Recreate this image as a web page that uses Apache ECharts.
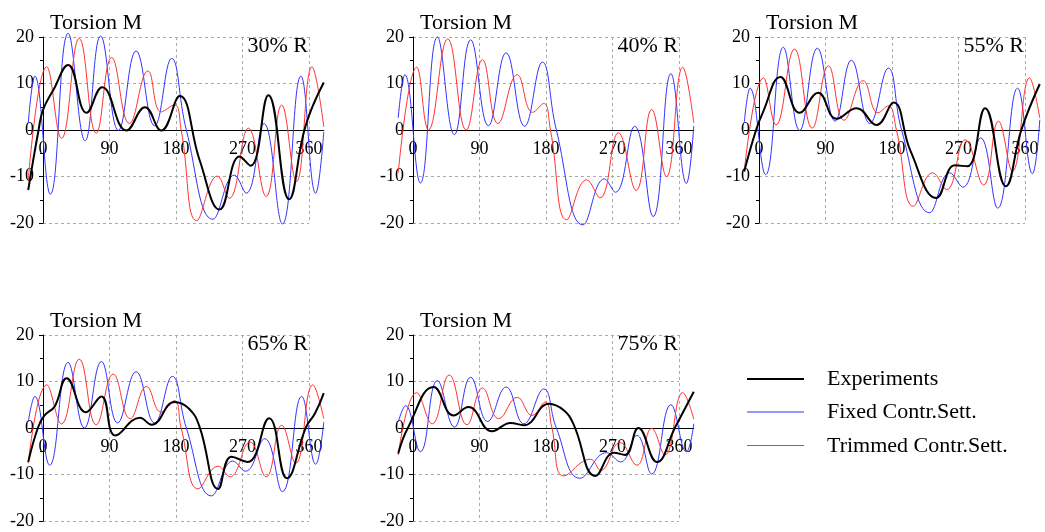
<!DOCTYPE html>
<html>
<head>
<meta charset="utf-8">
<script src="https://cdn.jsdelivr.net/npm/echarts@6/dist/echarts.min.js"></script>
<style>
html,body{margin:0;padding:0;background:#fff;}
#c{width:1045px;height:532px;}
</style>
</head>
<body>
<div id="c"></div>
<script>
// ---- data (angle in degrees, torsion moment) ----
const xTicks = [0, 90, 180, 270, 360];
const yTicks = [-20, -10, 0, 10, 20];
const panelLabels = ['30% R', '40% R', '55% R', '65% R', '75% R'];
const seriesNames = ['Experiments', 'Fixed Contr.Sett.', 'Trimmed Contr.Sett.'];

const exp30 = [[-20,-12.9],[-6,0],[0,4.3],[14,8.6],[34,14],[59,3.7],[80,9.2],[113,-0.1],[138,4.9],[160,-0.1],[185,7.3],[212,-6.5],[239,-17.1],[266,-5.7],[281,-7.7],[305,7.5],[333,-14.9],[355,0.7],[380,10.2]];
const fixed30 = [[-20,1.4],[-11,11.6],[10,-13.8],[34,20.8],[57,-2.3],[78,20.2],[102,-0.1],[126,17],[151,0.9],[174,15.4],[194,0],[230,-19.2],[259,-9.7],[275,-13.6],[299,1.4],[324,-20.2],[349,11.6],[369,-13.6],[380,-0.4]];
const trimmed30 = [[-20,-10.8],[5,13.6],[25,-1.8],[49,19.7],[72,-0.7],[93,15.6],[117,1.4],[142,12.7],[160,3.9],[178,5.4],[187,0],[208,-19.5],[236,-9.9],[252,-14.7],[278,0.4],[302,-14.3],[323,5.4],[343,-11.1],[364,13.6],[380,0.7]];

const exp40 = [];
const fixed40 = [[-20,2.6],[-11,11.9],[10,-11.4],[33,20],[56,-1],[78,19.4],[102,0.9],[126,16.6],[151,0.8],[175,14.6],[194,0],[230,-20.4],[259,-10.5],[274,-13.4],[300,0.8],[325,-18.6],[349,12.1],[370,-11.5],[380,0.9]];
const trimmed40 = [[-20,-9.2],[5,13.5],[21,0],[47,19.6],[72,0],[94,15.1],[115,1.4],[141,11.9],[162,3.8],[177,5.7],[186,0],[208,-19.3],[235,-10.7],[253,-14.6],[278,-0.6],[302,-13],[323,4.4],[343,-10],[365,13.5],[380,1.5]];

const exp55 = [[-20,-8.9],[-4,0],[5,3.7],[29,11.4],[55,3.7],[80,8],[105,2.4],[132,4.7],[159,1.1],[182,5.9],[205,-4.5],[240,-14.6],[265,-7.6],[282,-7.8],[306,4.7],[334,-12.1],[355,0],[380,9.9]];
const fixed55 = [[-20,1.5],[-12,9],[9,-9.6],[33,17.8],[55,-0.1],[79,17.6],[103,1.9],[125,15],[150,1.4],[175,13.3],[193,0],[231,-17.8],[258,-9.2],[276,-12.3],[300,-1.7],[323,-16.8],[350,9],[370,-9.4],[380,2.2]];
const trimmed55 = [[-20,-8.9],[6,11.2],[23,1.1],[48,17.4],[72,0.4],[94,13.8],[115,2.1],[141,10.6],[161,3.7],[175,5.2],[186,0],[209,-16.4],[235,-9.2],[254,-12.8],[279,-2.1],[304,-11.8],[324,1.9],[343,-8.9],[366,11.2],[380,2.6]];

const exp65 = [[-20,-7.3],[-7,0],[2,2.7],[16,4.7],[32,10.7],[58,3.4],[79,6.8],[98,-1.6],[131,2.2],[147,0.7],[178,5.6],[198,4.1],[212,0.2],[237,-13.1],[255,-6.2],[277,-7.3],[306,2.1],[330,-10.8],[356,0.2],[368,3.1],[380,7.5]];
const fixed65 = [[-20,1.3],[-11,6.8],[9,-8],[34,14.1],[56,0],[79,14.3],[101,1.1],[126,12.1],[151,1.1],[175,11.1],[194,0],[228,-14.6],[257,-7.1],[274,-9.3],[300,-2.3],[324,-13.7],[350,6.8],[369,-7.8],[380,1.3]];
const trimmed65 = [[-20,-7.6],[5,9.3],[25,0.9],[49,14.8],[72,0.7],[95,11.6],[118,2],[140,8.9],[160,3.4],[178,5.9],[187,0],[210,-13.1],[237,-8.2],[253,-10.5],[280,-3],[302,-10.5],[323,0.6],[342,-7.6],[365,9.3],[380,2]];

const exp75 = [[-20,-5.5],[-7,0],[28,8.8],[55,2.7],[75,4.5],[107,-0.7],[132,1.1],[150,0.6],[184,5.2],[204,3.8],[217,0.9],[247,-10.3],[272,-5.3],[287,-5.8],[305,0],[330,-7.3],[355,0.2],[380,7.8]];
const fixed75 = [[-20,1.3],[-10,4.8],[10,-5.1],[33,10.2],[56,0.2],[78,10.9],[101,1.4],[126,8.8],[150,0.9],[177,8.4],[194,0],[226,-10.8],[262,-5.3],[281,-7.3],[303,-1.6],[323,-9.9],[349,5],[370,-5.1],[380,0.9]];
const trimmed75 = [[-20,-5.8],[5,7.6],[26,0.9],[49,11.4],[73,0.7],[94,8.6],[116,2],[141,6.6],[161,2.7],[179,5.6],[188,0],[204,-10.3],[240,-6.7],[254,-9.1],[280,-3.1],[303,-8],[323,-0.1],[341,-5.8],[365,7.6],[380,1.9]];

const panelData = [
  [exp30, fixed30, trimmed30],
  [exp40, fixed40, trimmed40],
  [exp55, fixed55, trimmed55],
  [exp65, fixed65, trimmed65],
  [exp75, fixed75, trimmed75]
];

// ---- layout ----
const FONT = 'Liberation Serif';
const W = 266, H = 186;               // pixel size of the 0..360 / -20..20 box
const X_MIN = -20, X_MAX = 380;
const panels = [
  {x0: 43,  top: 37},
  {x0: 413, top: 37},
  {x0: 759, top: 37},
  {x0: 43,  top: 335},
  {x0: 413, top: 335}
];
const colors = ['#000000', '#3333ff', '#ff3333'];
const widths = [2, 1, 1];

const grid = [], xAxis = [], yAxis = [], series = [], title = [];
panels.forEach((p, i) => {
  const bi = grid.length;
  // box grid (0..360): dashed grid, y axis, x labels (moved up to the zero line)
  grid.push({left: p.x0, top: p.top, width: W, height: H, containLabel: false, outerBoundsMode: 'none'});
  xAxis.push({
    gridIndex: bi, type: 'value', min: 0, max: 360, interval: 90, position: 'bottom', offset: -H / 2,
    axisLine: {show: false, onZero: false}, axisTick: {show: false},
    axisLabel: {show: true, color: '#000', fontFamily: FONT, fontSize: 18, margin: 10,
      formatter: v => xTicks.indexOf(v) >= 0 ? String(v) : ''},
    splitLine: {show: true, lineStyle: {color: '#aaaaaa', type: [3, 3], width: 1}}
  });
  yAxis.push({
    gridIndex: bi, type: 'value', min: yTicks[0], max: yTicks[yTicks.length - 1], interval: 10,
    axisLine: {show: true, onZero: false, lineStyle: {color: '#000', width: 1}},
    axisTick: {show: true, length: 4, lineStyle: {color: '#000'}},
    minorTick: {show: true, splitNumber: 2, length: 3, lineStyle: {color: '#000'}},
    axisLabel: {color: '#000', fontFamily: FONT, fontSize: 18, margin: 9},
    splitLine: {show: true, lineStyle: {color: '#aaaaaa', type: [3, 3], width: 1}}
  });
  // data grid (-20..380): zero line and curves
  const di = grid.length;
  const k = W / 360;
  grid.push({left: p.x0 + X_MIN * k, top: p.top, width: (X_MAX - X_MIN) * k, height: H,
    containLabel: false, outerBoundsMode: 'none'});
  xAxis.push({
    gridIndex: di, type: 'value', min: X_MIN, max: X_MAX,
    axisLine: {show: true, onZero: true, lineStyle: {color: '#000', width: 1}},
    axisTick: {show: false}, axisLabel: {show: false}, splitLine: {show: false}
  });
  yAxis.push({
    gridIndex: di, type: 'value', min: -20, max: 20,
    axisLine: {show: false, onZero: false}, axisTick: {show: false}, axisLabel: {show: false}, splitLine: {show: false}
  });
  const d = panelData[i];
  [1, 2, 0].forEach(s => {
    if (!d[s].length) return;
    series.push({
      name: seriesNames[s], type: 'line', xAxisIndex: di, yAxisIndex: di,
      data: d[s], showSymbol: false, symbol: 'none', smooth: 0.45,
      clip: false, z: s === 0 ? 5 : 3,
      lineStyle: {color: colors[s], width: widths[s]}, itemStyle: {color: colors[s]}
    });
  });
  title.push({text: 'Torsion M', left: p.x0 + 7, top: p.top - 25, padding: 0,
    textStyle: {fontFamily: FONT, fontSize: 22, fontWeight: 'normal', color: '#000'}});
  title.push({text: panelLabels[i], right: 1045 - (p.x0 + W) + 1, top: p.top - 2, padding: 0,
    textStyle: {fontFamily: FONT, fontSize: 22, fontWeight: 'normal', color: '#000'}});
});

const thick = 'path://M0,0L57,0L57,2L0,2Z';
const thin = 'path://M0,0L57,0L57,1L0,1Z M0,2L57,2';
const chart = echarts.init(document.getElementById('c'), null, {renderer: 'canvas'});
chart.setOption({
  animation: false,
  backgroundColor: '#fff',
  title: title,
  grid: grid, xAxis: xAxis, yAxis: yAxis, series: series,
  legend: {
    orient: 'vertical', left: 747, top: 368, itemGap: 11.5, padding: 0,
    itemWidth: 57, itemHeight: 2,
    data: seriesNames.map((n, i) => ({name: n, icon: i === 0 ? thick : thin})),
    textStyle: {fontFamily: FONT, fontSize: 22, color: '#000', padding: [0, 0, 0, 18]}
  }
});
</script>
</body>
</html>
